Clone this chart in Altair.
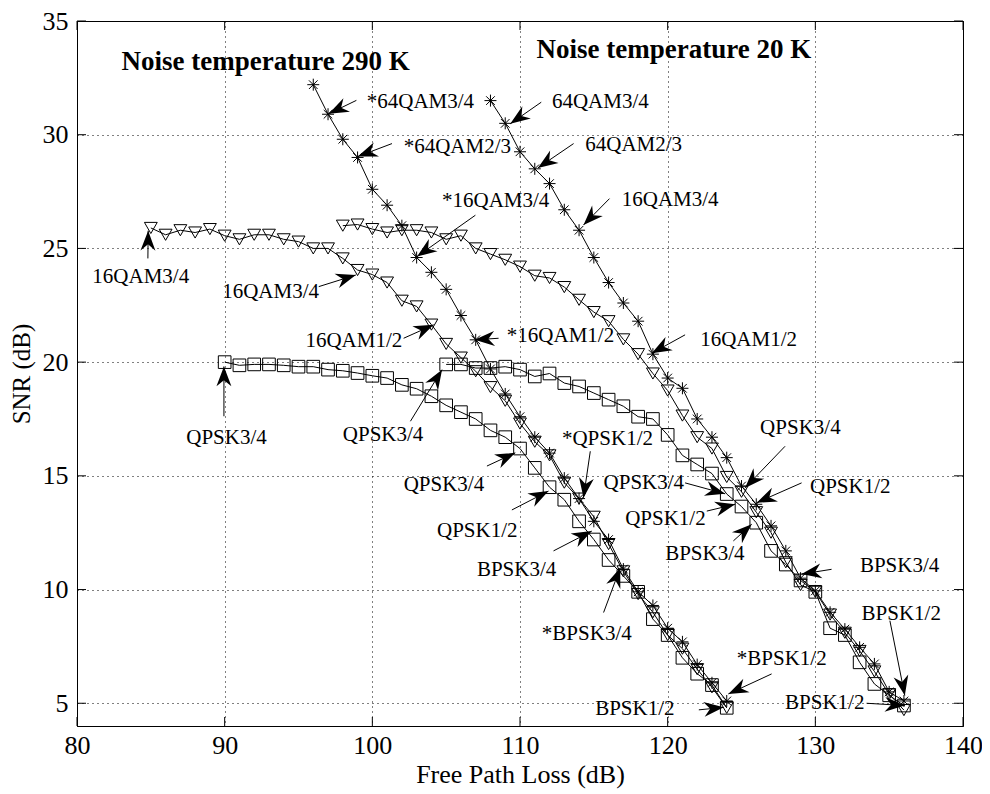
import math
import altair as alt
import pandas as pd

FONT = "Liberation Serif"
X_DOMAIN = [80, 140]
Y_DOMAIN = [4, 35]
W, H = 886, 705

# ---------------- series data ----------------
loss_290_star = list(range(96, 125))
snr_290_star = [32.2, 30.9, 29.8, 29.0, 27.6, 26.9, 26.0, 24.6, 23.95, 23.2, 22.05, 20.98,
                19.7, 18.6, 17.6, 16.7, 16.0, 14.9, 14.0, 13.0, 12.2, 10.9, 9.9, 9.3, 8.3,
                7.7, 6.7, 5.9, 5.1]

loss_290_tri = list(range(85, 125))
snr_290_tri = [25.9, 25.6, 25.8, 25.7, 25.85, 25.56, 25.4, 25.6, 25.6, 25.4, 25.3, 25.0,
               25.0, 24.56, 24.05, 23.85, 23.5, 22.7, 22.45, 21.65, 20.8, 20.2, 19.6, 18.9,
               18.3, 17.3, 16.5, 15.9, 14.7, 14.0, 13.2, 12.0, 10.8, 9.8, 9.0, 8.0, 7.4,
               6.5, 5.7, 4.8]

loss_290_sq = list(range(90, 125))
snr_290_sq = [20.0, 19.86, 19.9, 19.9, 19.86, 19.8, 19.8, 19.67, 19.62, 19.52, 19.4, 19.3,
              19.0, 18.83, 18.5, 18.1, 17.8, 17.5, 17.0, 16.7, 16.2, 15.35, 14.5, 13.95,
              13.0, 12.2, 11.3, 10.6, 9.9, 8.7, 8.0, 7.0, 6.3, 5.8, 4.8]

loss_20_star = list(range(108, 137))
snr_20_star = [31.5, 30.5, 29.25, 28.5, 27.85, 26.7, 25.8, 24.6, 23.5, 22.6, 21.8, 20.35,
               19.3, 18.85, 17.5, 16.7, 15.8, 14.55, 13.75, 12.8, 11.7, 10.5, 9.94, 9.0,
               8.26, 7.46, 6.73, 5.5, 5.1]

loss_20_tri = list(range(98, 137))
snr_20_tri = [26.0, 26.05, 25.85, 25.7, 25.8, 25.8, 25.7, 25.4, 25.56, 25.0, 24.75, 24.5,
              24.2, 23.8, 23.7, 23.3, 22.74, 22.2, 21.8, 21.0, 20.35, 19.5, 18.75, 17.65,
              16.7, 16.2, 14.95, 14.3, 13.4, 12.5, 11.2, 10.2, 9.9, 8.9, 8.1, 7.3, 6.4,
              5.4, 4.7]

loss_20_sq = list(range(105, 137))
snr_20_sq = [19.9, 19.9, 19.74, 19.74, 19.8, 19.67, 19.37, 19.5, 19.08, 18.93, 18.64,
             18.35, 18.06, 17.6, 17.5, 16.8, 15.9, 15.5, 15.1, 14.2, 13.65, 12.94, 11.7,
             11.1, 10.4, 9.9, 8.3, 8.0, 6.8, 5.85, 5.35, 4.9]

# ---------------- annotations (label, text pos, arrow tail, arrow tip) ----------------
ann_label = ["*64QAM3/4", "*64QAM2/3", "64QAM3/4", "64QAM2/3", "16QAM3/4", "*16QAM3/4",
             "16QAM3/4", "16QAM3/4", "16QAM1/2", "*16QAM1/2", "16QAM1/2",
             "QPSK3/4", "QPSK3/4", "QPSK3/4", "QPSK1/2", "*QPSK1/2", "BPSK3/4",
             "*BPSK3/4", "*BPSK1/2", "BPSK1/2", "QPSK3/4", "QPSK3/4", "QPSK1/2",
             "QPSK1/2", "BPSK3/4", "BPSK3/4", "BPSK1/2", "BPSK1/2"]
ann_tx = [99.62, 102.12, 112.16, 114.42, 116.89, 104.72, 81.04, 89.83, 95.47, 109.11,
          122.20, 87.40, 98.0, 102.12, 104.38, 112.84, 107.08, 111.48, 124.68, 115.09,
          126.26, 115.66, 129.64, 117.12, 119.83, 133.02, 133.13, 127.95]
ann_ty = [31.43, 29.46, 31.43, 29.54, 27.12, 27.08, 23.76, 23.10, 20.94, 21.13, 20.98,
          16.67, 16.79, 14.58, 12.57, 16.61, 10.85, 8.04, 6.95, 4.75, 17.11, 14.69,
          14.50, 13.09, 11.55, 11.04, 8.92, 5.0]
ann_x1 = [98.92, 101.33, 111.44, 113.63, 116.06, 106.98, 84.80, 96.37, 102.12, 108.55,
          121.18, 89.95, 102.58, 107.76, 109.45, 114.76, 112.27, 115.66, 127.04, 122.11,
          127.95, 121.18, 129.07, 122.65, 124.45, 131.10, 135.05, 133.47]
ann_y1 = [31.51, 29.61, 31.43, 29.61, 27.19, 26.46, 24.56, 23.32, 21.05, 21.05, 21.20,
          17.62, 17.40, 15.43, 13.50, 16.08, 11.70, 8.99, 6.29, 4.71, 16.30, 14.69,
          14.69, 13.45, 12.14, 10.89, 8.63, 5.0]
ann_x2 = [97.05, 99.01, 109.34, 111.21, 114.30, 103.02, 84.82, 98.88, 104.15, 106.93,
          118.92, 89.95, 104.72, 109.68, 111.93, 114.30, 114.86, 116.79, 124.11, 123.80,
          125.24, 123.89, 126.03, 124.57, 125.69, 129.07, 136.06, 136.06]
ann_y2 = [30.92, 29.04, 30.48, 28.54, 26.03, 24.64, 25.78, 23.83, 21.64, 20.98, 20.39,
          19.81, 19.67, 16.01, 14.33, 14.04, 12.57, 10.96, 5.41, 4.82, 14.47, 14.21,
          13.82, 13.75, 12.87, 10.68, 5.34, 4.90]

title_label = ["Noise temperature 290 K", "Noise temperature 20 K"]
title_tx = [83.02, 111.12]
title_ty = [33.19, 33.71]

x_ticks = [80, 90, 100, 110, 120, 130, 140]
y_ticks = [5, 10, 15, 20, 25, 30, 35]

# ---------------- frames ----------------
def series(name, xs, ys):
    return pd.DataFrame({"loss": xs, "snr": ys, "series": name})

star_df = pd.concat([series("290 star", loss_290_star, snr_290_star),
                     series("20 star", loss_20_star, snr_20_star)])
tri_df = pd.concat([series("290 tri", loss_290_tri, snr_290_tri),
                    series("20 tri", loss_20_tri, snr_20_tri)])
sq_df = pd.concat([series("290 sq", loss_290_sq, snr_290_sq),
                   series("20 sq", loss_20_sq, snr_20_sq)])
all_df = pd.concat([star_df, tri_df, sq_df])

px_x = W / (X_DOMAIN[1] - X_DOMAIN[0])
px_y = H / (Y_DOMAIN[1] - Y_DOMAIN[0])
angles = []
for a, b, c, d in zip(ann_x1, ann_y1, ann_x2, ann_y2):
    dx = (c - a) * px_x
    dy = -(d - b) * px_y
    angles.append(math.degrees(math.atan2(dx, -dy)) % 360)

ann_df = pd.DataFrame({"label": ann_label, "tx": ann_tx, "ty": ann_ty,
                       "x1": ann_x1, "y1": ann_y1, "x2": ann_x2, "y2": ann_y2,
                       "angle": angles})
title_df = pd.DataFrame({"label": title_label, "tx": title_tx, "ty": title_ty})
xt_df = pd.DataFrame({"v": x_ticks})
yt_df = pd.DataFrame({"v": y_ticks})

xs = alt.Scale(domain=X_DOMAIN, nice=False, zero=False)
ys = alt.Scale(domain=Y_DOMAIN, nice=False, zero=False)

x_axis = alt.Axis(values=x_ticks, title="Free Path Loss (dB)", grid=True,
                  gridDash=[1, 4], gridColor="black", gridWidth=1, gridOpacity=1,
                  tickSize=0, labelFlush=False,
                  labelFont=FONT, labelFontSize=26, labelColor="black", labelPadding=6,
                  titleFont=FONT, titleFontSize=26, titleFontWeight="normal",
                  titleColor="black", titlePadding=3, domainColor="black")
y_axis = alt.Axis(values=y_ticks, title="SNR (dB)", grid=True,
                  gridDash=[1, 4], gridColor="black", gridWidth=1, gridOpacity=1,
                  tickSize=0, labelFlush=False,
                  labelFont=FONT, labelFontSize=26, labelColor="black", labelPadding=9,
                  titleFont=FONT, titleFontSize=25, titleFontWeight="normal",
                  titleColor="black", titlePadding=8, domainColor="black")


def X(field):
    return alt.X(field, scale=xs, axis=x_axis)


def Y(field):
    return alt.Y(field, scale=ys, axis=y_axis)


lines = alt.Chart(all_df).mark_line(color="black", strokeWidth=1).encode(
    x=X("loss:Q"), y=Y("snr:Q"), detail="series:N",
)

STAR = "M-1,0L1,0M0,-1L0,1M-0.72,-0.72L0.72,0.72M-0.72,0.72L0.72,-0.72"
ARROW = "M0,0L0.6,1.6L0,1.1L-0.6,1.6Z"


def pts(df, shape, size):
    return alt.Chart(df).mark_point(shape=shape, size=size, filled=False, stroke="black",
                                    strokeWidth=1, opacity=1).encode(
        x=X("loss:Q"), y=Y("snr:Q"),
    )


stars = pts(star_df, STAR, 144)
tris = pts(tri_df, "triangle-down", 165)
sqs = pts(sq_df, "square", 160)

shafts = alt.Chart(ann_df).mark_rule(color="black", strokeWidth=1).encode(
    x=X("x1:Q"), y=Y("y1:Q"), x2="x2:Q", y2="y2:Q",
)
heads = alt.Chart(ann_df).mark_point(shape=ARROW, size=620, filled=True, fill="black",
                                     strokeWidth=0, opacity=1).encode(
    x=X("x2:Q"), y=Y("y2:Q"), angle=alt.Angle("angle:Q", scale=None),
)
labels = alt.Chart(ann_df).mark_text(font=FONT, fontSize=21, align="left",
                                     baseline="middle", color="black").encode(
    x=X("tx:Q"), y=Y("ty:Q"), text="label:N",
)
titles = alt.Chart(title_df).mark_text(font=FONT, fontSize=27, fontWeight="bold",
                                       align="left", baseline="middle",
                                       color="black").encode(
    x=X("tx:Q"), y=Y("ty:Q"), text="label:N",
)

TL = 9
xt_bot = alt.Chart(xt_df).mark_rule(color="black", strokeWidth=1).encode(
    x=X("v:Q"), y=alt.value(H), y2=alt.value(H - TL))
xt_top = alt.Chart(xt_df).mark_rule(color="black", strokeWidth=1).encode(
    x=X("v:Q"), y=alt.value(0), y2=alt.value(TL))
yt_left = alt.Chart(yt_df).mark_rule(color="black", strokeWidth=1).encode(
    y=Y("v:Q"), x=alt.value(0), x2=alt.value(TL))
yt_right = alt.Chart(yt_df).mark_rule(color="black", strokeWidth=1).encode(
    y=Y("v:Q"), x=alt.value(W), x2=alt.value(W - TL))

chart = alt.layer(
    lines, stars, tris, sqs, shafts, heads, labels, titles,
    xt_bot, xt_top, yt_left, yt_right,
).properties(
    width=W, height=H,
    autosize=alt.AutoSizeParams(type="none"),
    padding={"left": 69, "top": 13, "right": 19, "bottom": 66},
    background="white",
).configure_view(stroke="black", strokeWidth=1)

chart.save("out.html", embed_options={"renderer": "svg", "actions": False})
